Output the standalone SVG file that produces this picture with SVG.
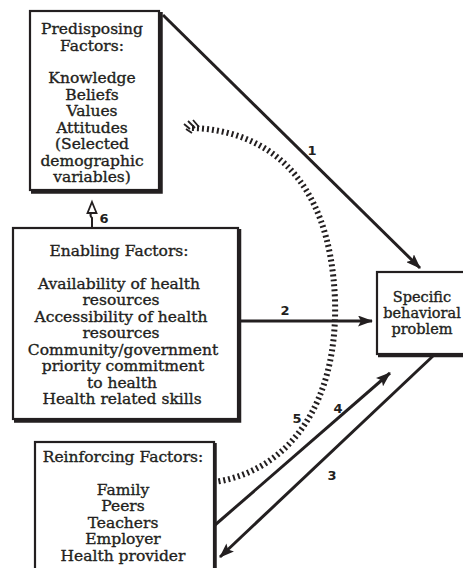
<svg xmlns="http://www.w3.org/2000/svg" width="463" height="568" viewBox="0 0 463 568">
<defs>
<style>
.box{fill:#fff;stroke:#231f20;stroke-width:2.2}
.shadow{fill:none;stroke:#231f20;stroke-width:3.5}
.t{font-family:"DejaVu Serif","Liberation Serif",serif;font-size:15.5px;fill:#231f20;stroke:#231f20;stroke-width:0.35;text-anchor:middle}
.s{font-size:14.5px}
.n{font-family:"DejaVu Sans","Liberation Sans",sans-serif;font-size:13px;font-weight:bold;fill:#231f20;text-anchor:middle}
.ln{fill:none;stroke:#231f20;stroke-width:3}
.hatch{fill:none;stroke:#231f20;stroke-width:6;stroke-dasharray:2 3}
</style>
<marker id="ah" viewBox="0 0 15 11" refX="14" refY="5.5" markerWidth="15" markerHeight="11" markerUnits="userSpaceOnUse" orient="auto">
<path d="M0,0 L15,5.5 L0,11 L3,5.5 Z" fill="#231f20"/>
</marker>
</defs>
<rect width="463" height="568" fill="#fff"/>

<g id="connectors">
<path class="ln" d="M163,15 L420,268" marker-end="url(#ah)"/>
<path class="ln" d="M240,321 L372,321" marker-end="url(#ah)"/>
<path class="ln" d="M433,356 L220,557" marker-end="url(#ah)"/>
<path class="ln" d="M215,525 L390,373" marker-end="url(#ah)"/>
<path class="hatch" d="M192,128 C262,130 330,172 335,300 C338,400 292,470 215,482"/>
<g stroke="#231f20" stroke-width="1.8" fill="none">
<path d="M184,124 L190,129"/><path d="M188,121 L195,128"/><path d="M193,120 L199,127"/><path d="M186,129 L192,133"/>
</g>
<path d="M92,228 L92,218 Q89,215 92,212" fill="none" stroke="#231f20" stroke-width="2"/>
<path d="M92,202 L96.5,213 L87.5,213 Z" fill="#fff" stroke="#231f20" stroke-width="1.8"/>
<text class="n" x="312" y="155">1</text>
<text class="n" x="285" y="315">2</text>
<text class="n" x="332" y="480">3</text>
<text class="n" x="338" y="413">4</text>
<text class="n" x="297" y="423">5</text>
<text class="n" x="104" y="223">6</text>
</g>

<g id="predisposing">
<rect class="box" x="30" y="11" width="129" height="179"/>
<path class="shadow" d="M161,12 L161,192 L31,192"/>
<text class="t" x="92" y="34">Predisposing</text>
<text class="t" x="92" y="50.5">Factors:</text>
<text class="t" x="92" y="83">Knowledge</text>
<text class="t" x="92" y="99.5">Beliefs</text>
<text class="t" x="92" y="116">Values</text>
<text class="t" x="92" y="132.5">Attitudes</text>
<text class="t" x="92" y="149">(Selected</text>
<text class="t" x="92" y="165.5">demographic</text>
<text class="t" x="92" y="182">variables)</text>
</g>

<g id="enabling">
<rect class="box" x="13" y="228" width="225" height="191"/>
<path class="shadow" d="M239.5,229 L239.5,421 L14,421"/>
<text class="t" x="119" y="255.5">Enabling Factors:</text>
<text class="t" x="119" y="288.5">Availability of health</text>
<text class="t" x="121" y="305">resources</text>
<text class="t" x="121" y="321.5">Accessibility of health</text>
<text class="t" x="121" y="338">resources</text>
<text class="t" x="123" y="354.5">Community/government</text>
<text class="t" x="123" y="371">priority commitment</text>
<text class="t" x="122" y="387.5">to health</text>
<text class="t" x="122" y="404">Health related skills</text>
</g>

<g id="reinforcing">
<rect class="box" x="35" y="442" width="179" height="140"/>
<path class="shadow" d="M215,443 L215,575"/>
<text class="t" x="123" y="462">Reinforcing Factors:</text>
<text class="t" x="123" y="494.5">Family</text>
<text class="t" x="123" y="511">Peers</text>
<text class="t" x="123" y="527.5">Teachers</text>
<text class="t" x="123" y="544">Employer</text>
<text class="t" x="123" y="560.5">Health provider</text>
</g>

<g id="specific">
<rect class="box" x="377" y="272" width="95" height="82"/>
<path class="shadow" d="M378,355.5 L470,355.5"/>
<text class="t s" x="422" y="302">Specific</text>
<text class="t s" x="422" y="318">behavioral</text>
<text class="t s" x="422" y="334">problem</text>
</g>
</svg>
